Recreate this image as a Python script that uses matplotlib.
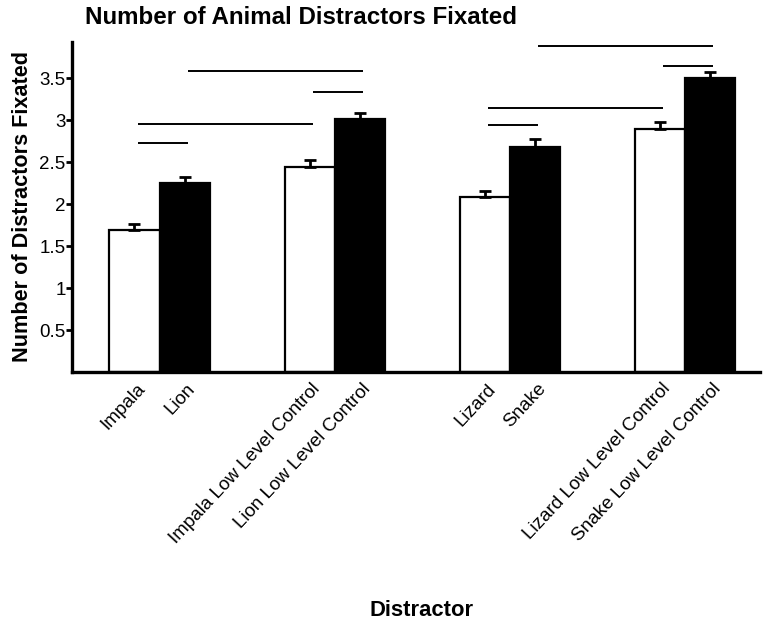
import matplotlib

matplotlib.use("Agg")

import matplotlib.pyplot as plt
import matplotlib.transforms as mtransforms
import numpy as np

plt.rcParams["font.family"] = ["Liberation Sans", "DejaVu Sans"]

# data
labels = [
    "Impala", "Lion",
    "Impala Low Level Control", "Lion Low Level Control",
    "Lizard", "Snake",
    "Lizard Low Level Control", "Snake Low Level Control",
]
means = [1.69, 2.245, 2.44, 3.01, 2.09, 2.68, 2.89, 3.50]
errors = [0.07, 0.075, 0.08, 0.08, 0.07, 0.09, 0.09, 0.075]
fills = ["white", "black"] * 4

# significance bars: pair of bar indices and height
sig_pairs = [(0, 1), (0, 2), (1, 3), (2, 3), (4, 5), (4, 6), (5, 7), (6, 7)]
sig_levels = [2.73, 2.95, 3.59, 3.33, 2.94, 3.14, 3.88, 3.65]

W, H = 763, 622
fig = plt.figure(figsize=(W / 100, H / 100), dpi=100, facecolor="white")
ax = fig.add_axes([72 / W, 1 - 372 / H, (760 - 72) / W, (372 - 42) / H])

offset = 0.143
width = 0.286
xs = np.array([g + s * offset for g in range(4) for s in (-1, 1)])

ax.bar(xs, means, width=width, color=fills, edgecolor="black", linewidth=1.6, zorder=2)
ax.errorbar(xs, means, yerr=[np.zeros(len(errors)), errors], fmt="none",
            ecolor="black", elinewidth=2, capsize=4, capthick=2, zorder=3)

for (a, b), lvl in zip(sig_pairs, sig_levels):
    ax.plot([xs[a] + 0.02, xs[b] + 0.02], [lvl, lvl], color="black", lw=1.4,
            solid_capstyle="butt", zorder=3)

ax.set_xlim(-0.5, 3.43)
ax.set_ylim(0, 3.93)
ax.set_yticks([0.5, 1, 1.5, 2, 2.5, 3, 3.5])
ax.set_yticklabels(["0.5", "1", "1.5", "2", "2.5", "3", "3.5"], fontsize=13.5)
ax.tick_params(axis="y", direction="out", length=4, width=2, pad=0.5)

ax.set_xticks(xs)
ax.set_xticklabels(labels, rotation=47, ha="right", va="top",
                   rotation_mode="anchor", fontsize=13.6)
ax.tick_params(axis="x", length=0, pad=6)
shift = mtransforms.ScaledTranslation(2 / 100, 0, fig.dpi_scale_trans)
for lab in ax.get_xticklabels():
    lab.set_transform(lab.get_transform() + shift)

for side in ("top", "right"):
    ax.spines[side].set_visible(False)
for side in ("left", "bottom"):
    ax.spines[side].set_linewidth(2.4)

fig.text(85 / W, 1 - 18 / H, "Number of Animal Distractors Fixated",
         fontsize=17.4, fontweight="bold", ha="left", va="center")
fig.text(23 / W, 1 - 207 / H, "Number of Distractors Fixated",
         fontsize=15.6, fontweight="bold", rotation=90, ha="center", va="center")
fig.text(422 / W, 1 - 610 / H, "Distractor",
         fontsize=15.8, fontweight="bold", ha="center", va="center")

fig.savefig("out.png", dpi=100, facecolor="white")
